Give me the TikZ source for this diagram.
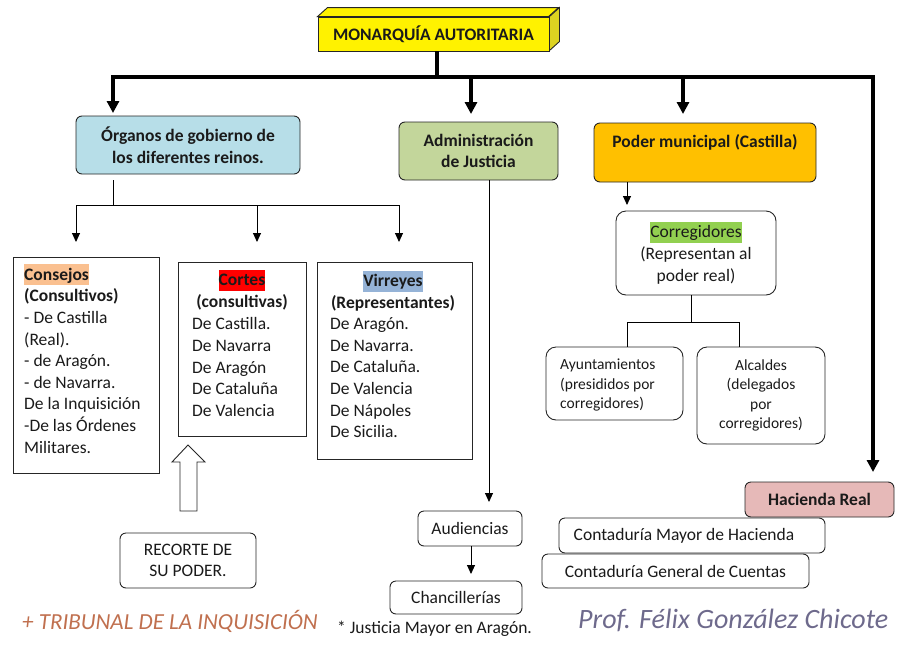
\documentclass[tikz,border=0pt]{standalone}
\usepackage{fontspec}
\setmainfont{Carlito}
\usetikzlibrary{arrows.meta}
\definecolor{orgc}{HTML}{B7DEE8}
\definecolor{admc}{HTML}{C3D69B}
\definecolor{podc}{HTML}{FFC000}
\definecolor{hacc}{HTML}{E6B9B8}
\definecolor{hlor}{HTML}{FAC090}
\definecolor{hlred}{HTML}{FF0000}
\definecolor{hlblue}{HTML}{95B3D7}
\definecolor{hlgreen}{HTML}{92D050}
\definecolor{tribc}{HTML}{C0704F}
\definecolor{sigc}{HTML}{6E6A8C}
\definecolor{txtc}{HTML}{1A1A1A}
\newcommand\hlw[2]{{\setlength{\fboxsep}{0pt}\colorbox{#1}{\rule[-5pt]{0pt}{21pt}#2}}}
\begin{document}
\begin{tikzpicture}[x=1pt,y=-1pt,
  txt/.style={font=\fontsize{17.5}{21.6}\selectfont, text=txtc, inner sep=0pt},
  btxt/.style={txt, font=\fontsize{17.5}{21.5}\selectfont\bfseries},
  stxt/.style={font=\fontsize{15.5}{19.3}\selectfont, text=txtc, inner sep=0pt},
  rbox/.style={draw=black!85, line width=0.9pt, rounded corners=6pt, inner sep=0pt, align=center},
  sbox/.style={draw=black!85, line width=0.9pt, inner sep=0pt},
  big/.style={line width=4pt, -{Triangle[length=12pt,width=12pt]}},
  thin/.style={line width=0.9pt, -{Triangle[length=9pt,width=8pt]}},
  plain/.style={line width=0.9pt}]
\useasboundingbox (0,0) rectangle (902,651);

% top node
\node[sbox, fill=yellow, minimum width=231pt, minimum height=34pt, btxt] (mon) at (433.5,34) {MONARQUÍA AUTORITARIA};
\filldraw[fill=yellow, draw=black!85, line width=0.9pt] (mon.north west) -- ++(10,-9) -- ++(231,0) -- ++(-10,9) -- cycle;
\filldraw[fill=yellow!85!black, draw=black!85, line width=0.9pt] (mon.north east) -- ++(10,-9) -- ++(0,34) -- ++(-10,9) -- cycle;

% level 1 boxes
\node[rbox, fill=orgc, minimum width=224pt, minimum height=58pt, btxt, align=center] (org) at (188,145) {Órganos de gobierno de\\los diferentes reinos.};
\node[rbox, fill=admc, minimum width=159pt, minimum height=58pt, btxt, align=center] (adm) at (478.5,151) {Administración\\de Justicia};
\node[rbox, fill=podc, minimum width=222pt, minimum height=59pt] (pod) at (705,152.5) {};
\node[btxt] (podt) at (705,142) {Poder municipal (Castilla)};
\node[rbox, fill=hacc, minimum width=149pt, minimum height=35pt, btxt] (hac) at (819.5,499.5) {Hacienda Real};

% trunk
\coordinate (m1) at (437,77);
\coordinate (hl) at (113,77);
\coordinate (hr) at (873,77);
\coordinate (ha) at (471,77);
\coordinate (hp) at (683,77);
\draw[line width=4pt] (mon.south -| m1) -- (m1);
\draw[line width=4pt, line cap=rect] (hl) -- (hr);
\draw[big] (hl) -- ++(0,36);
\draw[big] (ha) -- ++(0,37);
\draw[big] (hp) -- ++(0,37);
\draw[big] (hr) -- (873,472);

% organos branches
\coordinate (o1) at (113,180);
\coordinate (o2) at (113,205);
\coordinate (b1) at (76,205);
\coordinate (b2) at (257,205);
\coordinate (b3) at (399,205);
\draw[plain] (o1) -- (o2);
\draw[plain] (b1) -- (b3);
\draw[thin] (b1) -- ++(0,37);
\draw[thin] (b2) -- ++(0,37);
\draw[thin] (b3) -- ++(0,37);

% Consejos
\node[sbox, minimum width=146pt, minimum height=216pt] (cons) at (86,365) {};
\node[txt, anchor=north west, align=left] (const) at (24,264) {\hlw{hlor}{\bfseries Consejos}\\{\bfseries (Consultivos)}\\- De Castilla\\(Real).\\- de Aragón.\\- de Navarra.\\De la Inquisición\\-De las Órdenes\\Militares.};

% Cortes
\node[sbox, minimum width=128pt, minimum height=174pt] (cort) at (242,349) {};
\node[btxt, anchor=north, align=center] (corth) at (242,269.5) {\hlw{hlred}{Cortes}\\(consultivas)};
\node[txt, anchor=north west, align=left] (cortl) at (192,317.5) {De Castilla.\\De Navarra\\De Aragón\\De Cataluña\\De Valencia};

% Virreyes
\node[sbox, minimum width=155pt, minimum height=197pt] (virr) at (394.5,360.5) {};
\node[btxt, anchor=north, align=center] (virrh) at (393,270.5) {\hlw{hlblue}{Virreyes}\\(Representantes)};
\node[txt, anchor=north west, align=left] (virrl) at (330,317.5) {De Aragón.\\De Navarra.\\De Cataluña.\\De Valencia\\De Nápoles\\De Sicilia.};

% hollow arrow
\draw[line width=0.9pt, draw=black!85, fill=white] (180,511) -- (180,462) -- (172,462) -- (188,445) -- (205,462) -- (197,462) -- (197,511) -- cycle;
\node[rbox, minimum width=136pt, minimum height=55pt, txt, align=center] (rec) at (188,560.5) {RECORTE DE\\SU PODER.};

% Justicia
\node[rbox, minimum width=104pt, minimum height=35pt, txt] (aud) at (470,528.5) {Audiencias};
\node[rbox, minimum width=132pt, minimum height=33pt, txt] (chan) at (456,597.5) {Chancillerías};
\coordinate (a1) at (489,180);
\draw[thin] (a1) -- (489,502);
\coordinate (a2) at (471,574);
\draw[thin] (aud.south -| a2) -- (a2);
\node[txt, anchor=west] (just) at (337,629) {* Justicia Mayor en Aragón.};

% municipal
\coordinate (p1) at (627,182);
\coordinate (p2) at (627,205);
\draw[thin] (p1) -- (p2);
\node[rbox, rounded corners=10pt, minimum width=160pt, minimum height=84pt, txt, align=center] (corr) at (696,253) {\hlw{hlgreen}{Corregidores}\\(Representan al\\poder real)};
\node[rbox, rounded corners=10pt, minimum width=137pt, minimum height=73pt] (ayun) at (614.5,383.5) {};
\node[stxt, anchor=west, align=left] (ayunt) at (560,385) {Ayuntamientos\\(presididos por\\corregidores)};
\node[rbox, rounded corners=10pt, minimum width=128pt, minimum height=97pt, stxt, align=center] (alc) at (761,395.5) {Alcaldes\\(delegados\\por\\corregidores)};
\coordinate (c1) at (691,322);
\coordinate (c2) at (627,322);
\coordinate (c3) at (739,322);
\draw[plain] (corr.south -| c1) -- (c1);
\draw[plain] (ayun.north -| c2) -- (c2) -- (c3) -- (alc.north -| c3);

% Hacienda
\node[rbox, fill=white, minimum width=266pt, minimum height=35pt] (cmay) at (692,535.5) {};
\node[txt] (cmayt) at (684,535.5) {Contaduría Mayor de Hacienda};
\node[rbox, fill=white, minimum width=267pt, minimum height=34pt, txt] (cgen) at (675.5,571) {Contaduría General de Cuentas};

% footer texts
\node[font=\fontsize{23}{26}\selectfont\itshape, text=tribc, anchor=west, inner sep=0pt] (trib) at (22,621) {+ TRIBUNAL DE LA INQUISICIÓN};
\node[font=\fontsize{28}{31}\selectfont\itshape, text=sigc, anchor=west, inner sep=0pt] (sig) at (578,620) {Prof. Félix González Chicote};
\end{tikzpicture}
\end{document}
